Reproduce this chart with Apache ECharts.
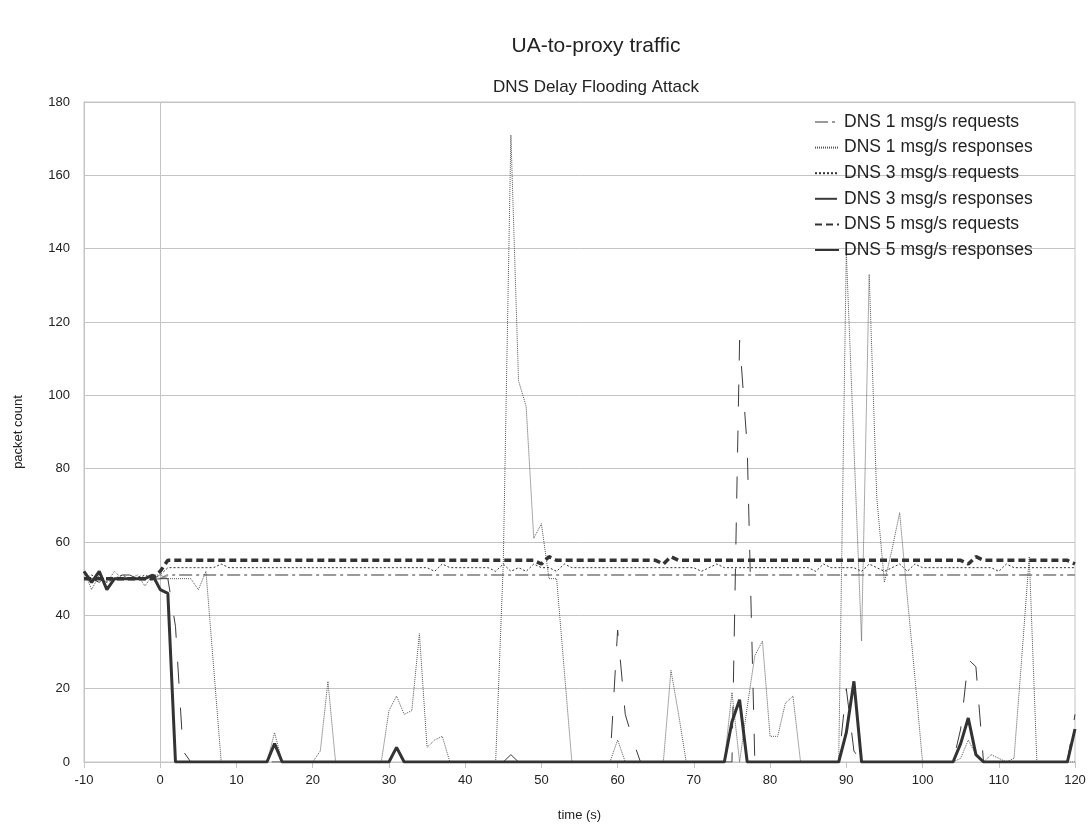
<!DOCTYPE html>
<html>
<head>
<meta charset="utf-8">
<title>UA-to-proxy traffic</title>
<script src="https://cdn.jsdelivr.net/npm/echarts@6/dist/echarts.min.js"></script>
<style>
  html, body { margin: 0; padding: 0; background: #fff; }
  #chart { width: 1091px; height: 828px; }
</style>
</head>
<body>
<div id="chart"></div>
<script>
// time axis: one sample per second, -10 s .. 120 s
const times = [];
for (let t = -10; t <= 120; t++) times.push(t);

const xTicks = { min: -10, max: 120, interval: 10 };
const yTicks = { min: 0, max: 180, interval: 20 };

// packet counts per second (rows: -10..-1, 0..9, 10..19, ..., 110..119, 120)
const dns1Requests = [
  50, 50, 50, 50, 50, 50, 50, 50, 50, 50,
  50, 51, 51, 51, 51, 51, 51, 51, 51, 51,
  51, 51, 51, 51, 51, 51, 51, 51, 51, 51,
  51, 51, 51, 51, 51, 51, 51, 51, 51, 51,
  51, 51, 51, 51, 51, 51, 51, 51, 51, 51,
  51, 51, 51, 51, 51, 51, 51, 51, 51, 51,
  51, 51, 51, 51, 51, 51, 51, 51, 51, 51,
  51, 51, 51, 51, 51, 51, 51, 51, 51, 51,
  51, 51, 51, 51, 51, 51, 51, 51, 51, 51,
  51, 51, 51, 51, 51, 51, 51, 51, 51, 51,
  51, 51, 51, 51, 51, 51, 51, 51, 51, 51,
  51, 51, 51, 51, 51, 51, 51, 51, 51, 51,
  51, 51, 51, 51, 51, 51, 51, 51, 51, 51,
  51
];

const dns1Responses = [
  52, 47, 51, 49, 52, 50, 50, 51, 48, 51,
  51, 50, 50, 50, 50, 47, 52, 26, 0, 0,
  0, 0, 0, 0, 0, 8, 0, 0, 0, 0,
  0, 3, 22, 0, 0, 0, 0, 0, 0, 0,
  14, 18, 13, 14, 35, 4, 6, 7, 0, 0,
  0, 0, 0, 0, 0, 54, 171, 104, 97, 61,
  65, 50, 50, 25, 0, 0, 0, 0, 0, 0,
  6, 0, 0, 0, 0, 0, 0, 25, 13, 0,
  0, 0, 0, 0, 0, 19, 0, 15, 29, 33,
  7, 7, 16, 18, 0, 0, 0, 0, 0, 0,
  139, 86, 33, 133, 72, 49, 58, 68, 45, 23,
  0, 0, 0, 0, 0, 1, 6, 2, 0, 2,
  1, 0, 1, 28, 56, 0, 0, 0, 0, 0,
  0
];

const dns3Requests = [
  50, 51, 50, 49, 50, 51, 50, 50, 51, 50,
  51, 53, 53, 53, 53, 53, 53, 53, 54, 53,
  53, 53, 53, 53, 53, 53, 53, 53, 53, 53,
  53, 53, 53, 53, 53, 53, 53, 53, 53, 53,
  53, 53, 53, 53, 53, 53, 52, 54, 53, 53,
  53, 53, 53, 53, 52, 54, 52, 53, 52, 54,
  53, 53, 52, 54, 53, 53, 53, 53, 53, 53,
  53, 53, 53, 53, 53, 53, 53, 53, 53, 53,
  53, 52, 53, 54, 53, 53, 53, 53, 53, 53,
  53, 53, 53, 53, 53, 53, 52, 54, 53, 53,
  53, 53, 52, 54, 53, 52, 53, 54, 52, 54,
  53, 53, 53, 53, 53, 53, 53, 53, 53, 53,
  52, 54, 53, 53, 53, 53, 53, 53, 53, 53,
  53
];

const dns3Responses = [
  50, 50, 49, 51, 49, 51, 51, 50, 52, 50,
  50, 50, 37, 3, 0, 0, 0, 0, 0, 0,
  0, 0, 0, 0, 0, 0, 0, 0, 0, 0,
  0, 0, 0, 0, 0, 0, 0, 0, 0, 0,
  0, 0, 0, 0, 0, 0, 0, 0, 0, 0,
  0, 0, 0, 0, 0, 0, 2, 0, 0, 0,
  0, 0, 0, 0, 0, 0, 0, 0, 0, 0,
  36, 13, 6, 0, 0, 0, 0, 0, 0, 0,
  0, 0, 0, 0, 0, 0, 115, 86, 0, 0,
  0, 0, 0, 0, 0, 0, 0, 0, 0, 0,
  20, 3, 0, 0, 0, 0, 0, 0, 0, 0,
  0, 0, 0, 0, 0, 9, 28, 26, 0, 0,
  0, 0, 0, 0, 0, 0, 0, 0, 0, 0,
  13
];

const dns5Requests = [
  50, 50, 50, 50, 50, 50, 50, 50, 50, 50,
  52, 55, 55, 55, 55, 55, 55, 55, 55, 55,
  55, 55, 55, 55, 55, 55, 55, 55, 55, 55,
  55, 55, 55, 55, 55, 55, 55, 55, 55, 55,
  55, 55, 55, 55, 55, 55, 55, 55, 55, 55,
  55, 55, 55, 55, 55, 55, 55, 55, 55, 55,
  54, 56, 55, 55, 55, 55, 55, 55, 55, 55,
  55, 55, 55, 55, 55, 55, 54, 56, 55, 55,
  55, 55, 55, 55, 55, 55, 55, 55, 55, 55,
  55, 55, 55, 55, 55, 55, 55, 55, 55, 55,
  55, 55, 55, 55, 55, 55, 55, 55, 55, 55,
  55, 55, 55, 55, 55, 55, 54, 56, 55, 55,
  55, 55, 55, 55, 55, 55, 55, 55, 55, 55,
  54
];

const dns5Responses = [
  52, 49, 52, 47, 50, 50, 50, 50, 50, 51,
  47, 46, 0, 0, 0, 0, 0, 0, 0, 0,
  0, 0, 0, 0, 0, 5, 0, 0, 0, 0,
  0, 0, 0, 0, 0, 0, 0, 0, 0, 0,
  0, 4, 0, 0, 0, 0, 0, 0, 0, 0,
  0, 0, 0, 0, 0, 0, 0, 0, 0, 0,
  0, 0, 0, 0, 0, 0, 0, 0, 0, 0,
  0, 0, 0, 0, 0, 0, 0, 0, 0, 0,
  0, 0, 0, 0, 0, 11, 17, 0, 0, 0,
  0, 0, 0, 0, 0, 0, 0, 0, 0, 0,
  8, 22, 0, 0, 0, 0, 0, 0, 0, 0,
  0, 0, 0, 0, 0, 5, 12, 2, 0, 0,
  0, 0, 0, 0, 0, 0, 0, 0, 0, 0,
  9
];

const seriesNames = [
  'DNS 1 msg/s requests',
  'DNS 1 msg/s responses',
  'DNS 3 msg/s requests',
  'DNS 3 msg/s responses',
  'DNS 5 msg/s requests',
  'DNS 5 msg/s responses'
];
const seriesValues = [dns1Requests, dns1Responses, dns3Requests, dns3Responses, dns5Requests, dns5Responses];

const lineStyles = [
  { color: '#9a9a9a', width: 2, type: [13, 4, 3, 4] },
  { color: '#555555', width: 1, type: [1, 1] },
  { color: '#333333', width: 1, type: [2, 2] },
  { color: '#3a3a3a', width: 1, type: [22, 24] },
  { color: '#333333', width: 3.5, type: [7, 4] },
  { color: '#333333', width: 3, type: 'solid' }
];

const FONT = 'Liberation Sans, Arial, sans-serif';
const GRID_COLOR = '#c4c4c4';

const series = seriesNames.map((name, k) => {
  const s = {
    name: name,
    type: 'line',
    data: times.map((t, i) => [t, seriesValues[k][i]]),
    symbol: 'none',
    showSymbol: false,
    smooth: false,
    lineStyle: lineStyles[k],
    itemStyle: { color: lineStyles[k].color },
    z: 2 + k
  };
  if (k === 0) {
    // vertical reference line at t = 0
    s.markLine = {
      silent: true,
      symbol: 'none',
      z: 1,
      label: { show: false },
      lineStyle: { color: GRID_COLOR, type: 'solid', width: 1 },
      data: [{ xAxis: 0 }]
    };
  }
  return s;
});

const chart = echarts.init(document.getElementById('chart'), null, { renderer: 'canvas' });
chart.setOption({
  animation: false,
  backgroundColor: '#ffffff',
  textStyle: { fontFamily: FONT },
  graphic: [
    {
      type: 'text', x: 596, y: 46,
      style: { text: 'UA-to-proxy traffic', fontSize: 21, fontFamily: FONT, fill: '#222', textAlign: 'center', textVerticalAlign: 'middle' }
    },
    {
      type: 'text', x: 596, y: 87,
      style: { text: 'DNS Delay Flooding Attack', fontSize: 17, fontFamily: FONT, fill: '#222', textAlign: 'center', textVerticalAlign: 'middle' }
    }
  ],
  grid: {
    left: 84, right: 16, top: 102, bottom: 66,
    outerBoundsMode: 'none',
    containLabel: false,
    show: true, borderColor: GRID_COLOR, borderWidth: 1, backgroundColor: 'transparent'
  },
  legend: {
    orient: 'vertical',
    left: 814, top: 113,
    padding: 0,
    itemWidth: 24, itemHeight: 14, itemGap: 7.6,
    itemStyle: { opacity: 0 },
    textStyle: { fontSize: 17.5, color: '#222', fontFamily: FONT },
    data: seriesNames
  },
  xAxis: {
    type: 'value',
    min: xTicks.min, max: xTicks.max, interval: xTicks.interval,
    name: 'time (s)', nameLocation: 'middle', nameGap: 47,
    nameTextStyle: { fontSize: 13, color: '#222', fontFamily: FONT },
    axisLine: { show: true, onZero: false, lineStyle: { color: GRID_COLOR, width: 1 } },
    axisTick: { show: true, length: 6, lineStyle: { color: GRID_COLOR } },
    axisLabel: { fontSize: 13, color: '#222', margin: 12, fontFamily: FONT },
    splitLine: { show: false }
  },
  yAxis: {
    type: 'value',
    min: yTicks.min, max: yTicks.max, interval: yTicks.interval,
    name: 'packet count', nameLocation: 'middle', nameGap: 59, nameRotate: 90,
    nameTextStyle: { fontSize: 13, color: '#222', fontFamily: FONT },
    axisLine: { show: true, onZero: false, lineStyle: { color: GRID_COLOR, width: 1 } },
    axisTick: { show: false },
    axisLabel: { fontSize: 13, color: '#222', margin: 14, fontFamily: FONT },
    splitLine: { show: true, lineStyle: { color: GRID_COLOR, width: 1 } }
  },
  series: series
});
</script>
</body>
</html>
